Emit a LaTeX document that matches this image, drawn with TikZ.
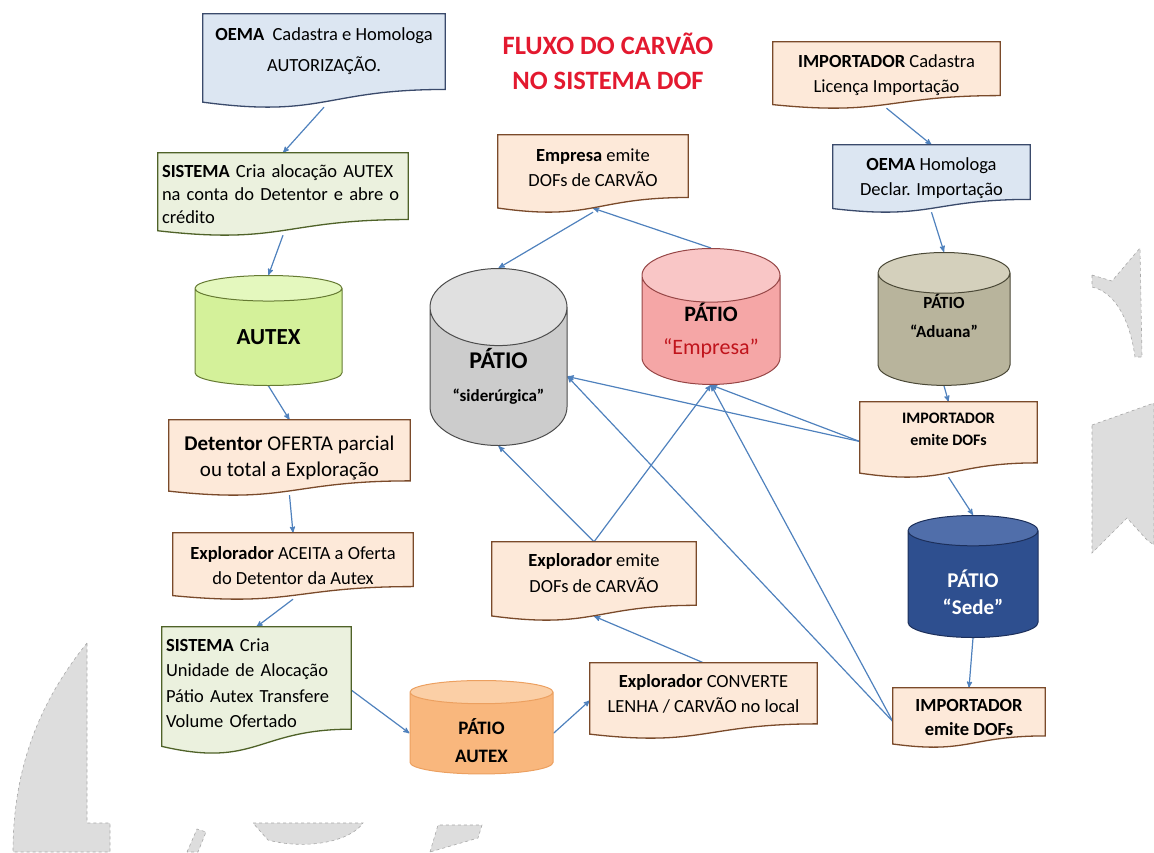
\documentclass[tikz,border=0pt]{standalone}
\usepackage{fontspec}
\setmainfont{Carlito}
\usetikzlibrary{shapes.geometric, calc, arrows}

\pgfdeclarelayer{edgelayer}
\pgfdeclarelayer{background}
\pgfsetlayers{edgelayer,background,main}

\definecolor{arrowblue}{HTML}{4F81BD}
\definecolor{titlered}{HTML}{E3192F}
\definecolor{empred}{HTML}{C0141C}
\definecolor{bluefill}{HTML}{DCE6F2}
\definecolor{blueline}{HTML}{3A4A6B}
\definecolor{greenfill}{HTML}{EBF1DE}
\definecolor{greenline}{HTML}{4F6228}
\definecolor{peachfill}{HTML}{FDE9D9}
\definecolor{peachline}{HTML}{7A4A2A}
\definecolor{wmgray}{HTML}{DDDDDD}
\definecolor{wmline}{HTML}{A8A8A8}

% document shape with wavy bottom drawn behind a node
\newcommand{\docshape}[3]{%
  \draw[line width=1.3pt, fill=#2, draw=#3] (#1.north west) -- (#1.north east)
    -- ($(#1.north east)!0.81!(#1.south east)$)
    .. controls ($(#1.north)!0.81!(#1.south)$) and ($(#1.north)!1.12!(#1.south)$)
    .. ($(#1.north west)!0.946!(#1.south west)$) -- cycle;}

\begin{document}
\begin{tikzpicture}[x=1pt,y=-1pt]

\tikzset{docbox/.style = {rectangle, inner sep=3pt, align=center, font=\fontsize{18.5}{25}\selectfont}}
\tikzset{tank/.style = {cylinder, shape border rotate=90, draw, line width=1pt, cylinder uses custom fill, align=center, inner sep=0pt, anchor=north}}
\tikzset{edge/.style = {->, > = stealth', draw=arrowblue, line width=1.2pt}}
\tikzset{wmark/.style = {fill=wmgray, draw=wmline, dashed, line width=0.6pt}}

\useasboundingbox (0,0) rectangle (1154,852);

%watermark
\begin{pgfonlayer}{edgelayer}
\path[wmark] (87,643) .. controls (45,695) and (13,760) .. (13,852) -- (110,852) -- (110,823) -- (87,823) -- cycle;
\path[wmark] (187,852) -- (197,829) -- (206,832) -- (198,852) -- cycle;
\path[wmark] (253,823) -- (363,823) .. controls (350,842) and (305,850) .. (268,840) -- cycle;
\path[wmark] (430,852) -- (438,825) -- (482,825) -- (478,838) -- cycle;
\path[wmark] (1092,275) -- (1112,281) -- (1140,248) -- (1142,357) -- (1135,357) .. controls (1130,320) and (1115,292) .. (1092,287) -- cycle;
\path[wmark] (1092,425) -- (1154,403) -- (1154,545) -- (1147,540) -- (1127,518) -- (1092,553) -- cycle;
\end{pgfonlayer}

%title
\node[font=\fontsize{26.5}{31}\selectfont\bfseries, text=titlered, align=center] (title) at (608,61) {FLUXO DO CARVÃO\\[4pt]NO SISTEMA DOF};

%documents
\node[docbox, minimum width=242pt, minimum height=93pt, text depth=21pt] (oema1) at (324,60.5) {\textbf{OEMA}\ \ Cadastra e Homologa\\[6pt]AUTORIZAÇÃO.};
\node[docbox, minimum width=250pt, minimum height=82pt, align=left, text width=242pt, font=\fontsize{18.5}{23}\selectfont] (sis1) at (283,194) {\textbf{SISTEMA} Cria alocação AUTEX\\na conta do Detentor e abre o\\crédito};
\node[docbox, minimum width=241pt, minimum height=75pt, font=\fontsize{21}{26}\selectfont] (det) at (289.5,457.5) {\textbf{Detentor} OFERTA parcial\\ou total a Exploração};
\node[docbox, minimum width=240pt, minimum height=66pt] (acc) at (293,566) {\textbf{Explorador} ACEITA a Oferta\\do Detentor da Autex};
\node[docbox, minimum width=189pt, minimum height=126pt, align=left, text width=181pt, text depth=90pt, font=\fontsize{18.5}{25.5}\selectfont] (sis2) at (256.5,690) {\textbf{SISTEMA} Cria\\Unidade de Alocação\\Pátio Autex Transfere\\Volume Ofertado};
\node[docbox, minimum width=227pt, minimum height=75pt, text depth=14pt] (conv) at (703.5,700.5) {\textbf{Explorador} CONVERTE\\LENHA / CARVÃO no local};
\node[docbox, minimum width=204pt, minimum height=78pt, text depth=16pt] (expl) at (594,581) {\textbf{Explorador} emite\\DOFs de CARVÃO};
\node[docbox, minimum width=190pt, minimum height=77pt, text depth=11pt] (emp) at (593,173.5) {\textbf{Empresa} emite\\DOFs de CARVÃO};
\node[docbox, minimum width=227pt, minimum height=66pt] (imp1) at (886.5,75) {\textbf{IMPORTADOR} Cadastra\\Licença Importação};
\node[docbox, minimum width=197pt, minimum height=67pt] (oema2) at (931.5,178.5) {\textbf{OEMA} Homologa\\Declar. Importação};
\node[docbox, minimum width=177pt, minimum height=75pt, text depth=20pt, font=\fontsize{16}{22}\selectfont\bfseries] (imp2) at (948.5,439.5) {IMPORTADOR\\emite DOFs};
\node[docbox, minimum width=152pt, minimum height=59pt, font=\fontsize{18.5}{24}\selectfont\bfseries] (imp3) at (969,717.5) {IMPORTADOR\\emite DOFs};

\begin{pgfonlayer}{background}
\docshape{oema1}{bluefill}{blueline}
\docshape{oema2}{bluefill}{blueline}
\docshape{sis1}{greenfill}{greenline}
\docshape{sis2}{greenfill}{greenline}
\foreach \n in {det, acc, conv, expl, emp, imp1, imp2, imp3}
  \docshape{\n}{peachfill}{peachline};
\end{pgfonlayer}

%tanks
\node[tank, minimum width=147pt, minimum height=110pt, aspect=0.4, draw=olive!60!green!70!black,
  cylinder body fill={rgb,255:red,212;green,241;blue,154}, cylinder end fill={rgb,255:red,228;green,248;blue,190},
  font=\fontsize{23}{28}\selectfont\bfseries] (autex) at (268.5,275) {AUTEX};
\node[tank, minimum width=137pt, minimum height=177pt, aspect=0.84, draw=black!70,
  cylinder body fill=black!20, cylinder end fill=black!12, font=\fontsize{17}{33}\selectfont\bfseries] (sid) at (498.5,268)
  {{\fontsize{24}{28}\selectfont PÁTIO}\\“siderúrgica”};
\node[tank, minimum width=138pt, minimum height=114pt, aspect=0.56, draw={rgb,255:red,150;green,70;blue,70},
  cylinder body fill={rgb,255:red,245;green,166;blue,166}, cylinder end fill={rgb,255:red,249;green,198;blue,198},
  font=\fontsize{22}{33}\selectfont] (empcyl) at (711,248)
  {\textbf{PÁTIO}\\{\color{empred}“Empresa”}};
\node[tank, minimum width=132pt, minimum height=131pt, aspect=0.6, draw={rgb,255:red,74;green,72;blue,54},
  cylinder body fill={rgb,255:red,184;green,180;blue,156}, cylinder end fill={rgb,255:red,212;green,208;blue,188},
  font=\fontsize{17}{29}\selectfont\bfseries, text depth=28pt] (aduana) at (944,252) {PÁTIO\\“Aduana”};
\node[tank, minimum width=130pt, minimum height=122pt, aspect=0.5, draw={rgb,255:red,28;green,47;blue,90},
  cylinder body fill={rgb,255:red,46;green,79;blue,143}, cylinder end fill={rgb,255:red,80;green,110;blue,170},
  text=white, font=\fontsize{21}{27}\selectfont\bfseries, text height=61pt] (sede) at (973,515) {PÁTIO\\“Sede”};
\node[tank, minimum width=143pt, minimum height=92pt, aspect=0.44, draw={rgb,255:red,236;green,160;blue,96},
  cylinder body fill={rgb,255:red,249;green,183;blue,125}, cylinder end fill={rgb,255:red,251;green,207;blue,166},
  font=\fontsize{19}{28}\selectfont\bfseries, text height=58pt] (pautex) at (481.5,680) {PÁTIO\\AUTEX};

%edges
\begin{pgfonlayer}{edgelayer}
\draw[edge] (oema1.south) -- (sis1.north);
\draw[edge] (sis1.south) -- (autex.north);
\draw[edge] (autex.south) -- (det.north);
\draw[edge] (det.south) -- (acc.north);
\draw[edge] (acc.south) -- (sis2.north);
\draw[edge] (sis2.east) -- (pautex.west);
\draw[edge] (pautex.east) -- (conv.west);
\draw[edge] (conv.north) -- ([yshift=4pt]expl.south);
\draw[edge] (expl.north) -- (sid.south);
\draw[edge] (expl.north) -- (empcyl.south);
\draw[edge] (empcyl.north) -- ([yshift=4pt]emp.south);
\draw[edge] (emp.south) -- (sid.north);
\draw[edge] (imp1.south) -- (oema2.north);
\draw[edge] (oema2.south) -- (aduana.north);
\draw[edge] (aduana.south) -- (imp2.north);
\draw[edge] (imp2.south) -- (sede.north);
\draw[edge] (sede.south) -- (imp3.north);
\draw[edge] ([yshift=-2pt]imp2.west) -- (sid.east);
\draw[edge] ([yshift=-2pt]imp2.west) -- (empcyl.south);
\draw[edge] ([yshift=-4pt]imp3.west) -- (sid.east);
\draw[edge] ([yshift=-4pt]imp3.west) -- (empcyl.south);
\end{pgfonlayer}

\end{tikzpicture}
\end{document}
